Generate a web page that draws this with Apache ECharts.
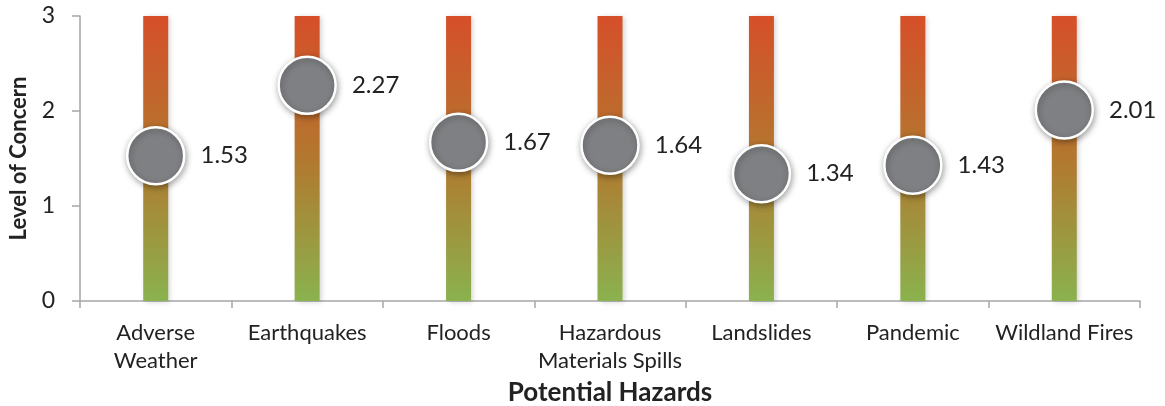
<!DOCTYPE html>
<html>
<head>
<meta charset="utf-8">
<script src="https://cdn.jsdelivr.net/npm/echarts@6/dist/echarts.min.js"></script>
<style>
  html, body { margin: 0; padding: 0; background: #fff; }
  #chart { width: 1165px; height: 406px; }
</style>
</head>
<body>
<div id="chart"></div>
<script>
// Hazard categories and their mean level of concern (scale 0–3)
const categories = [
  'Adverse\nWeather',
  'Earthquakes',
  'Floods',
  'Hazardous\nMaterials Spills',
  'Landslides',
  'Pandemic',
  'Wildland Fires'
];
const concernValues = [1.53, 2.27, 1.67, 1.64, 1.34, 1.43, 2.01];
// Full-height scale track drawn behind each marker
const scaleMax = 3;
const trackValues = categories.map(() => scaleMax);
const yTicks = [0, 1, 2, 3];

const FONT = 'Lato, "Open Sans", sans-serif';

const chart = echarts.init(document.getElementById('chart'), null, { renderer: 'canvas' });

chart.setOption({
  animation: false,
  backgroundColor: '#ffffff',
  grid: {
    left: 80, right: 25, top: 16, bottom: 105,
    containLabel: false,
    outerBoundsMode: 'none'
  },
  xAxis: {
    type: 'category',
    data: categories,
    name: 'Potential Hazards',
    nameLocation: 'middle',
    nameGap: 79,
    nameTextStyle: { fontFamily: FONT, fontSize: 26, fontWeight: 'bold', color: '#222' },
    axisLine: { lineStyle: { color: '#a6a6a6', width: 1.5 } },
    axisTick: { show: true, length: 7, alignWithLabel: false, lineStyle: { color: '#a6a6a6', width: 1.5 } },
    axisLabel: {
      fontFamily: FONT, fontSize: 22, color: '#222', margin: 18, lineHeight: 28, interval: 0
    },
    splitLine: { show: false }
  },
  yAxis: {
    type: 'value',
    min: yTicks[0],
    max: yTicks[yTicks.length - 1],
    interval: 1,
    name: 'Level of Concern',
    nameLocation: 'middle',
    nameGap: 50,
    nameRotate: 90,
    nameTextStyle: { fontFamily: FONT, fontSize: 22, fontWeight: 'bold', color: '#222' },
    axisLine: { show: true, lineStyle: { color: '#a6a6a6', width: 1.5 } },
    axisTick: { show: true, length: 8, lineStyle: { color: '#a6a6a6', width: 1.5 } },
    axisLabel: { fontFamily: FONT, fontSize: 23, color: '#222', margin: 25 },
    splitLine: { show: false }
  },
  series: [
    {
      type: 'bar',
      data: trackValues,
      barWidth: 25,
      silent: true,
      itemStyle: {
        color: new echarts.graphic.LinearGradient(0, 0, 0, 1, [
          { offset: 0, color: '#d64f29' },
          { offset: 0.5, color: '#b2782f' },
          { offset: 1, color: '#8ab24e' }
        ]),
        shadowColor: 'rgba(0,0,0,0.18)',
        shadowBlur: 5,
        shadowOffsetX: 2,
        shadowOffsetY: 1
      },
      z: 1
    },
    {
      type: 'scatter',
      data: concernValues,
      symbol: 'circle',
      symbolSize: 57,
      itemStyle: {
        color: '#7f8083',
        borderColor: '#ffffff',
        borderWidth: 2.5,
        shadowColor: 'rgba(0,0,0,0.35)',
        shadowBlur: 6,
        shadowOffsetX: 1,
        shadowOffsetY: 2,
        opacity: 1
      },
      label: {
        show: true,
        position: 'right',
        distance: 15,
        fontFamily: FONT,
        fontSize: 24,
        color: '#222',
        formatter: p => p.value.toFixed(2)
      },
      z: 3
    }
  ]
});
</script>
</body>
</html>
